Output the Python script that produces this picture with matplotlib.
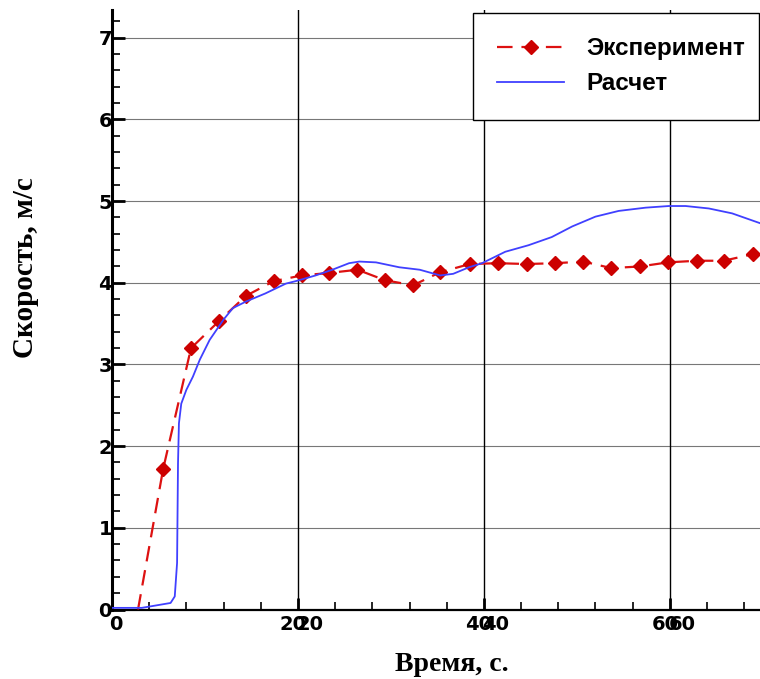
import matplotlib
matplotlib.use('Agg')
import matplotlib.pyplot as plt
from matplotlib.ticker import MultipleLocator
from matplotlib.legend_handler import HandlerLine2D
from matplotlib.transforms import ScaledTranslation

# experiment (first point is where the dashed line starts, no marker there)
exp_t = [2.8, 5.5, 8.5, 11.5, 14.4, 17.4, 20.4, 23.3, 26.4, 29.4, 32.4, 35.3,
         38.5, 41.5, 44.6, 47.7, 50.7, 53.7, 56.8, 59.8, 62.9, 65.8, 68.9]
exp_v = [0.0, 1.72, 3.20, 3.53, 3.84, 4.02, 4.09, 4.12, 4.16, 4.03, 3.97, 4.13,
         4.23, 4.24, 4.23, 4.24, 4.26, 4.18, 4.20, 4.25, 4.27, 4.27, 4.35]

# calculation
calc_t = [0.0, 3.2, 6.3, 6.75, 7.0, 7.1, 7.2, 7.45, 8.0, 8.7, 9.45, 10.5, 12.0,
          13.0, 14.4, 16.5, 18.7, 19.75, 21.9, 23.7, 25.5, 26.6, 28.4, 30.9,
          33.1, 35.3, 36.7, 38.4, 39.8, 42.3, 44.8, 47.3, 49.5, 52.0, 54.5,
          57.4, 59.9, 61.7, 64.2, 66.7, 69.7]
calc_v = [0.02, 0.02, 0.08, 0.16, 0.57, 1.79, 2.28, 2.52, 2.69, 2.85, 3.06, 3.30,
          3.55, 3.69, 3.77, 3.87, 3.99, 4.02, 4.09, 4.16, 4.24, 4.26, 4.25, 4.19,
          4.16, 4.09, 4.11, 4.19, 4.24, 4.38, 4.46, 4.56, 4.69, 4.81, 4.88,
          4.92, 4.94, 4.94, 4.91, 4.85, 4.73]

xticks = [0, 20, 40, 60]
xtick_labels = ['0', '20', '40', '60']
yticks = [0, 1, 2, 3, 4, 5, 6, 7]
ytick_labels = ['0', '1', '2', '3', '4', '5', '6', '7']


class RightMarker(HandlerLine2D):
    # put the legend marker near the right end of the sample line
    def get_xdata(self, legend, xdescent, ydescent, width, height, fontsize):
        xdata, _ = super().get_xdata(legend, xdescent, ydescent, width, height, fontsize)
        return xdata, [-xdescent + 0.8 * width]


fig = plt.figure(figsize=(7.6, 6.79), dpi=100)
ax = fig.add_axes([112 / 760, 1 - 609.5 / 679, 648 / 760, 599.5 / 679])

for y in yticks[1:]:
    ax.axhline(y, color='#777777', lw=0.8, zorder=1)
for x in xticks[1:]:
    ax.axvline(x, color='black', lw=1.0, zorder=1)

ax.plot(exp_t, exp_v, color='#dd1111', lw=1.6, dashes=(7, 4),
        marker='D', ms=7.5, mfc='#cc0000', mec='#cc0000',
        markevery=list(range(1, len(exp_t))), label='Эксперимент', zorder=3)
ax.plot(calc_t, calc_v, color='#4040ff', lw=1.3, label='Расчет', zorder=4)

ax.set_xlim(0, 69.7)
ax.set_ylim(0, 7.34)

ax.spines['top'].set_visible(False)
ax.spines['right'].set_visible(False)
ax.spines['left'].set_linewidth(2.2)
ax.spines['bottom'].set_linewidth(1.6)

ax.xaxis.set_major_locator(MultipleLocator(20))
ax.xaxis.set_minor_locator(MultipleLocator(4))
ax.set_yticks(yticks)
ax.set_yticklabels(ytick_labels, fontsize=14, fontweight='bold', family='DejaVu Sans')
ax.yaxis.set_minor_locator(MultipleLocator(0.2))
ax.tick_params(axis='both', which='major', direction='in', length=9, width=2, color='black')
ax.tick_params(axis='both', which='minor', direction='in', length=6, width=1.2)
ax.tick_params(axis='y', which='major', pad=0)
ax.tick_params(axis='x', which='both', labelbottom=False)

# x tick labels (drawn twice, slightly shifted, like the original export)
xtrans = ax.get_xaxis_transform()
shifts = {'0': [4]}
for xv, lab in zip(xticks, xtick_labels):
    for dx in shifts.get(lab, [-5, 12]):
        ax.text(xv, 0, lab, fontsize=14, fontweight='bold', family='DejaVu Sans',
                ha='center', va='center', clip_on=False,
                transform=xtrans + ScaledTranslation(dx / 100, -15.5 / 100, fig.dpi_scale_trans))

fig.text(26 / 760, 1 - 268 / 679, 'Скорость, м/с', rotation=90, ha='center', va='center',
         fontsize=21, fontweight='bold', family='Liberation Serif')
fig.text(452 / 760, 1 - 671 / 679, 'Время, с.', ha='center', va='baseline',
         fontsize=20, fontweight='bold', family='Liberation Serif')

leg = ax.legend(loc='upper left', bbox_to_anchor=(0.557, 0.995, 0.441, 0.0), mode='expand',
                borderaxespad=0, borderpad=1.0, handlelength=2.75, handletextpad=0.9,
                labelspacing=0.5, fancybox=False, framealpha=1, edgecolor='black',
                prop={'family': 'Liberation Sans', 'weight': 'bold', 'size': 17.5},
                handler_map={ax.lines[0]: RightMarker(numpoints=1)})
leg.get_frame().set_linewidth(1.0)
leg.set_zorder(10)

fig.savefig('out.png', dpi=100)
